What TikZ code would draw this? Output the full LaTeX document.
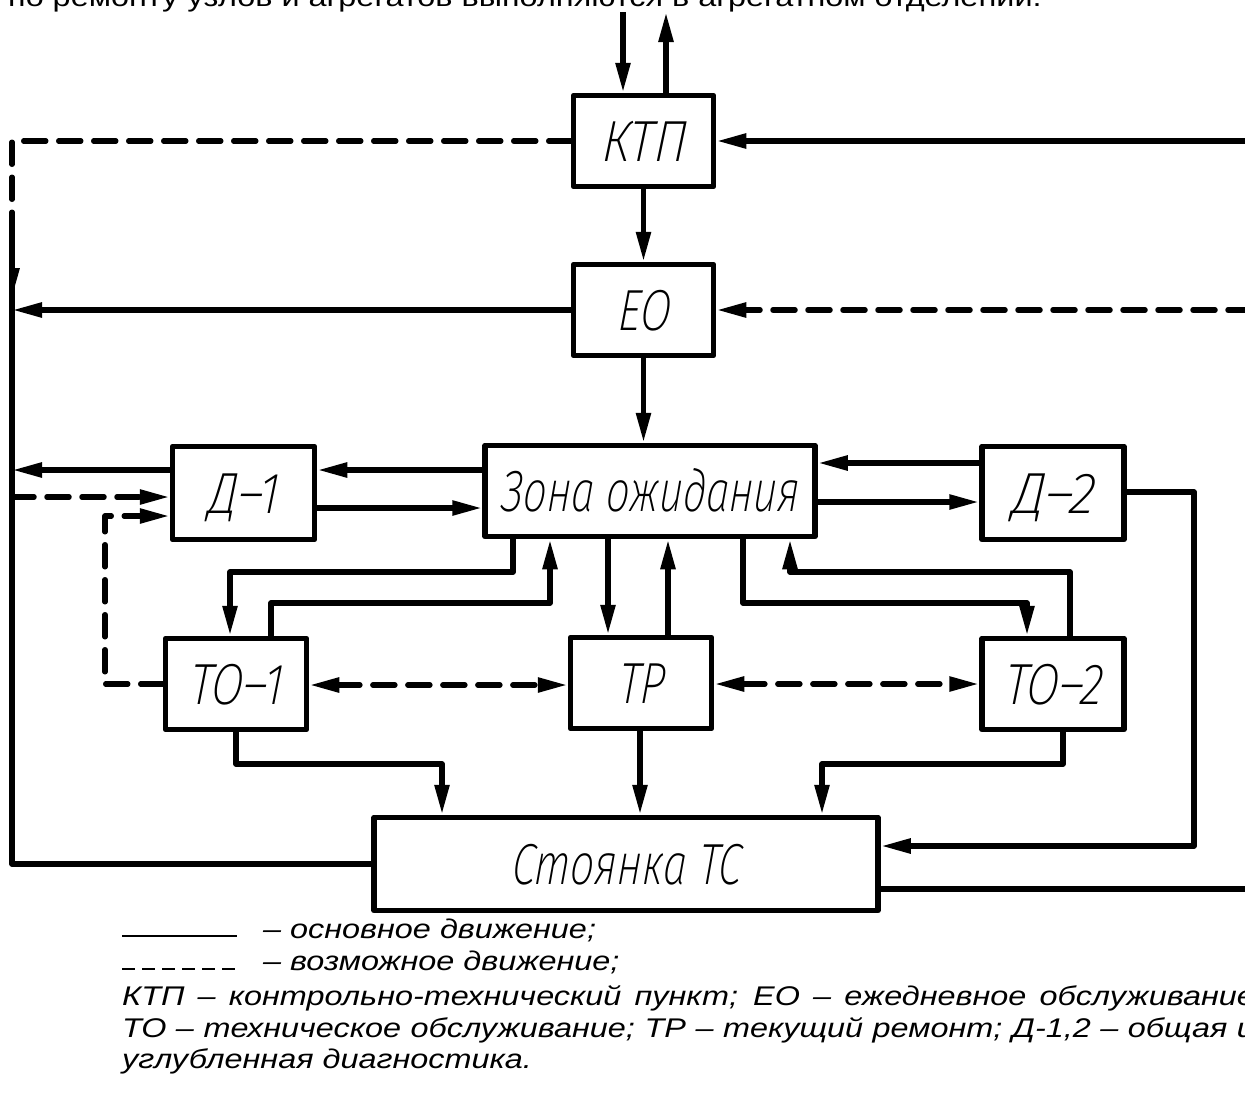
\documentclass[tikz,border=0pt]{standalone}
\usepackage{fontspec}
\usepackage{graphicx}
\usetikzlibrary{arrows.meta}
\setmainfont{Liberation Sans}
\newfontfamily\legendfont{Liberation Sans}
\IfFontExistsTF{Fira Sans ExtraLight Italic}
  {\newfontfamily\boxfont{Fira Sans ExtraLight Italic}[FakeSlant=0.1]}
  {\IfFontExistsTF{Fira Sans Light Italic}
     {\newfontfamily\boxfont{Fira Sans Light Italic}[FakeSlant=0.1]}
     {\newfontfamily\boxfont{Liberation Sans Italic}}}
% block captions: given width, cap height fixed so they sit centred in the boxes
\newcommand\boxlabel[2]{\resizebox{#1}{40pt}{\raisebox{0pt}[40pt][0pt]{#2}}}
% explanatory text is set slightly wide
\newcommand\wide[1]{\scalebox{1.2}[1]{#1}}
\tikzset{
  Hd/.tip={Triangle[length=30pt,width=14pt]},
  box/.style={draw, line width=5.5pt, line join=round, inner sep=0pt,
              font=\boxfont\fontsize{58}{58}\selectfont},
  link/.style={line width=5.5pt, line join=round},
  arr/.style={link, -Hd},
  dlink/.style={link, line cap=round, dash pattern=on 22pt off 13pt},
  darr/.style={dlink, -Hd},
  ddarr/.style={dlink, Hd-Hd},
  legend/.style={inner sep=0pt, anchor=base west,
                 font=\legendfont\itshape\fontsize{27}{32}\selectfont},
  intro/.style={inner sep=0pt, anchor=base west,
                font=\legendfont\fontsize{27}{32}\selectfont}
}
\begin{document}
\begin{tikzpicture}[x=1pt,y=-1pt]
\useasboundingbox (0,0) rectangle (1245,1095);
\fill[white] (0,0) rectangle (1245,1095);
\clip (0,0) rectangle (1245,1095);

% leading line of the paragraph above the scheme
\node[intro] (intro) at (8,6) {\wide{по ремонту узлов и агрегатов выполняются в агрегатном отделении.}};

% blocks
\node[box, minimum width=140pt, minimum height=91pt] (ktp)  at (643.5,141) {\boxlabel{85pt}{КТП}};
\node[box, minimum width=140pt, minimum height=91pt] (eo)   at (643.5,310) {\boxlabel{53pt}{ЕО}};
\node[box, minimum width=330pt, minimum height=91pt] (zona) at (650,491)   {\boxlabel{298pt}{Зона ожидания}};
\node[box, minimum width=142pt, minimum height=93pt] (d1)   at (243.5,493) {\boxlabel{70pt}{Д–1}};
\node[box, minimum width=142pt, minimum height=93pt] (d2)   at (1053,493)  {\boxlabel{82pt}{Д–2}};
\node[box, minimum width=141pt, minimum height=91pt] (to1)  at (236,684)   {\boxlabel{93pt}{ТО–1}};
\node[box, minimum width=141pt, minimum height=91pt] (tr)   at (641,683)   {\boxlabel{46pt}{ТР}};
\node[box, minimum width=142pt, minimum height=91pt] (to2)  at (1053,684)  {\boxlabel{98pt}{ТО–2}};
\node[box, minimum width=504pt, minimum height=93pt] (st)   at (626,864)   {\boxlabel{229pt}{Стоянка ТС}};

% free ends and the collecting line on the left
\coordinate (inTop)    at (623,12);
\coordinate (outTop)   at (666,12);
\coordinate (busTop)   at (12,141);
\coordinate (busSolid) at (12,232);
\coordinate (bus)      at (12,310);
\coordinate (eastK)    at (1250,141);
\coordinate (eastE)    at (1250,310);
\coordinate (eastS)    at (1250,889);

% entry and exit of the control point
\draw[arr] (inTop) -- (inTop |- ktp.north);
\draw[arr] (ktp.north -| outTop) -- (outTop);
\draw[arr] (eastK) -- (ktp.east |- eastK);
\draw[arr] (ktp) -- (eo);
\draw[darr] (eastE) -- (eo.east |- eastE);
\draw[arr] (eo) -- (zona.north -| eo.south);

% left collecting line
\draw[dlink, -{Triangle[length=30pt,width=14pt,left]}] (ktp.west) -- (busTop) -- (bus);
\draw[arr] (eo.west) -- (bus);
\draw[link] (busSolid) -- (busSolid |- st.west) -- (st.west);
\draw[arr] (d1.west |- 0,470) -- (bus |- 0,470);
\draw[darr] (bus |- 0,497) -- (d1.west |- 0,497);
\draw[darr] (to1.west) -| (105,516) -- (d1.west |- 0,516);

% diagnostics
\draw[arr] (zona.west |- 0,470) -- (d1.east |- 0,470);
\draw[arr] (d1.east |- 0,508) -- (zona.west |- 0,508);
\draw[arr] (d2.west |- 0,463) -- (zona.east |- 0,463);
\draw[arr] (zona.east |- 0,502) -- (d2.west |- 0,502);
\draw[arr] (d2.east |- 0,492) -| (1194,846) -- (st.east |- 0,846);
\draw[link] (st.east |- eastS) -- (eastS);

% waiting zone and service posts
\draw[arr] (zona.south -| 513,0) |- (230,572) -- (to1.north -| 230,0);
\draw[arr] (to1.north -| 271,0) |- (550,603) -- (zona.south -| 550,0);
\draw[arr] (zona.south -| 608,0) -- (tr.north -| 608,0);
\draw[arr] (tr.north -| 668,0) -- (zona.south -| 668,0);
\draw[arr] (zona.south -| 743,0) |- (1027,603) -- (to2.north -| 1027,0);
\draw[arr] (to2.north -| 1070,0) |- (790,572) -- (zona.south -| 790,0);
\draw[ddarr] (to1.east |- 0,685) -- (tr.west |- 0,685);
\draw[ddarr] (tr.east |- 0,684) -- (to2.west |- 0,684);

% to the parking area
\draw[arr] (to1.south -| 236,0) |- (442,764) -- (st.north -| 442,0);
\draw[arr] (tr.south -| 640,0) -- (st.north -| 640,0);
\draw[arr] (to2.south -| 1063,0) |- (822,764) -- (st.north -| 822,0);

% legend
\coordinate (ls1) at (122,936);
\coordinate (le1) at (237,936);
\coordinate (ls2) at (122,969);
\coordinate (le2) at (235,969);
\draw[line width=1.8pt] (ls1) -- (le1);
\draw[line width=1.8pt, dash pattern=on 13pt off 7pt] (ls2) -- (le2);
\node[legend] (lg1) at (263,938) {\wide{– основное движение;}};
\node[legend] (lg2) at (263,970) {\wide{– возможное движение;}};
\node[legend] (lg3) at (122,1005) {\wide{\makebox[944pt][s]{КТП – контрольно-технический пункт; ЕО – ежедневное обслуживание}}};
\node[legend] (lg4) at (122,1037) {\wide{\makebox[944pt][s]{ТО – техническое обслуживание; ТР – текущий ремонт; Д-1,2 – общая и}}};
\node[legend] (lg5) at (122,1068) {\wide{углубленная диагностика.}};
\end{tikzpicture}
\end{document}
